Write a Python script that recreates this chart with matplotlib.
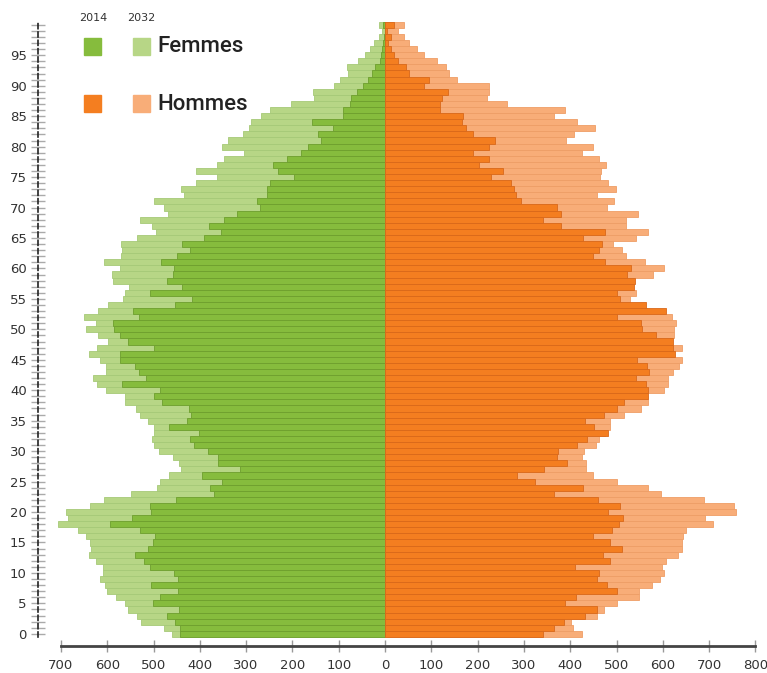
import matplotlib
matplotlib.use("Agg")
import matplotlib.pyplot as plt
import numpy as np
from matplotlib.patches import Rectangle

# ----------------------------------------
# Data : population by age (thousands)
# ----------------------------------------
ages = np.arange(0, 101)

femmes_2014 = [442, 442, 453, 471, 445, 501, 486, 448, 505, 448,
               455, 507, 520, 540, 512, 501, 496, 529, 594, 547,
               506, 507, 451, 370, 378, 352, 396, 314, 360, 360,
               383, 412, 421, 401, 466, 428, 419, 424, 482, 499,
               486, 568, 517, 532, 540, 572, 572, 500, 556, 572,
               586, 588, 531, 545, 453, 416, 507, 439, 471, 457,
               455, 483, 450, 422, 439, 390, 355, 380, 347, 319,
               271, 277, 255, 255, 249, 196, 232, 241, 212, 181,
               167, 138, 145, 113, 157, 90, 90, 75, 74, 61,
               48, 37, 28, 21, 10, 8, 7, 5, 2, 1, 5]

femmes_2032 = [459, 477, 527, 536, 555, 561, 581, 601, 604, 615,
               609, 608, 625, 640, 635, 637, 646, 662, 707, 685,
               689, 638, 606, 549, 493, 486, 466, 440, 446, 457,
               489, 498, 504, 500, 500, 511, 530, 537, 561, 561,
               602, 622, 631, 602, 602, 615, 640, 621, 599, 619,
               645, 624, 651, 619, 599, 565, 561, 552, 588, 590,
               573, 606, 571, 568, 571, 536, 494, 504, 529, 469,
               478, 498, 434, 440, 409, 363, 409, 363, 347, 304,
               352, 340, 306, 293, 289, 268, 248, 203, 154, 156,
               110, 98, 79, 81, 59, 43, 33, 23, 14, 7, 14]

hommes_2014 = [342, 365, 386, 431, 457, 389, 412, 502, 479, 457,
               463, 410, 487, 470, 511, 487, 450, 490, 505, 513,
               482, 507, 461, 365, 428, 324, 286, 344, 394, 372,
               374, 414, 437, 482, 452, 432, 473, 500, 517, 567,
               567, 563, 542, 571, 565, 545, 626, 623, 623, 585,
               554, 552, 502, 606, 564, 507, 500, 538, 540, 523,
               531, 475, 450, 463, 468, 428, 475, 380, 342, 380,
               371, 293, 282, 278, 272, 229, 254, 202, 224, 189,
               224, 237, 189, 176, 166, 168, 119, 119, 124, 137,
               85, 95, 52, 45, 29, 19, 14, 7, 13, 5, 19]

hommes_2032 = [425, 405, 402, 457, 473, 502, 548, 548, 577, 594,
               603, 598, 606, 632, 641, 641, 644, 650, 708, 692,
               758, 754, 689, 596, 567, 500, 450, 434, 434, 425,
               430, 456, 462, 475, 486, 486, 517, 552, 567, 565,
               602, 612, 612, 621, 634, 641, 620, 641, 620, 624,
               624, 628, 619, 565, 530, 529, 542, 535, 535, 578,
               603, 561, 520, 511, 492, 542, 567, 520, 520, 546,
               479, 495, 457, 498, 482, 464, 466, 477, 463, 425,
               450, 391, 408, 453, 415, 365, 389, 263, 221, 224,
               224, 155, 138, 132, 113, 84, 70, 52, 40, 27, 42]

x_ticks = [-700, -600, -500, -400, -300, -200, -100, 0, 100, 200, 300, 400, 500, 600, 700, 800]
y_ticks = list(range(0, 100, 5))

# colours
green_dark = "#86BC3D"
green_light = "#B7D686"
orange_dark = "#F47E20"
orange_light = "#F8AD78"

# ----------------------------------------
# Figure
# ----------------------------------------
W, H = 767, 673
fig = plt.figure(figsize=(W / 100, H / 100), dpi=100)

# axes placed in pixels : spine at x=38, bottom at y=646
left_px, right_px, top_px, bottom_px = 38, 760, 18, 646
ax = fig.add_axes([left_px / W, 1 - bottom_px / H,
                   (right_px - left_px) / W, (bottom_px - top_px) / H])

px_per_unit = 0.463
ax.set_xlim((left_px - 385) / px_per_unit, (right_px - 385) / px_per_unit)
ax.set_ylim(-2, -2 + (bottom_px - top_px) / 6.09)

# 2032 behind, 2014 in front
ax.barh(ages, -np.array(femmes_2032), height=1.0, color=green_light,
        edgecolor="#A6C977", linewidth=0.6, zorder=2)
ax.barh(ages, -np.array(femmes_2014), height=1.0, color=green_dark,
        edgecolor="#6E9F2E", linewidth=0.6, zorder=3)
ax.barh(ages, hommes_2032, height=1.0, color=orange_light,
        edgecolor="#EE9E66", linewidth=0.6, zorder=2)
ax.barh(ages, hommes_2014, height=1.0, color=orange_dark,
        edgecolor="#D9681A", linewidth=0.6, zorder=3)

# axes styling
for s in ["top", "right"]:
    ax.spines[s].set_visible(False)
ax.spines["bottom"].set_bounds(-700, 800)
ax.spines["bottom"].set_color("#444444")
ax.spines["bottom"].set_linewidth(2)
ax.spines["left"].set_bounds(-0.6, 100.5)
ax.spines["left"].set_color("#222222")
ax.spines["left"].set_linewidth(1.2)
ax.spines["left"].set_linestyle((0, (3, 2)))

ax.set_xticks(x_ticks)
ax.set_xticklabels([str(abs(v)) for v in x_ticks])
ax.tick_params(axis="x", direction="inout", length=9, width=1,
               color="#999999", labelsize=9.5, labelcolor="#333333", pad=5)

ax.set_yticks(y_ticks)
ax.set_yticklabels([str(v) for v in y_ticks])
ax.set_yticks(np.arange(0, 101), minor=True)
ax.tick_params(axis="y", which="both", direction="inout", length=10, width=1,
               color="#AAAAAA", labelsize=9.5, labelcolor="#333333", pad=3)

# ----------------------------------------
# Legend
# ----------------------------------------
def square(x, y, color):
    fig.patches.append(Rectangle((x / W, 1 - (y + 17) / H), 17 / W, 17 / H,
                                 transform=fig.transFigure, color=color))

square(84, 38, green_dark)
square(133, 38, green_light)
square(84, 95, orange_dark)
square(133, 95, orange_light)

fig.text(93 / W, 1 - 18 / H, "2014", ha="center", va="center", fontsize=8, color="#333333")
fig.text(141 / W, 1 - 18 / H, "2032", ha="center", va="center", fontsize=8, color="#333333")

legend_font = ["Roboto", "DejaVu Sans"]
fig.text(157 / W, 1 - 47 / H, "Femmes", ha="left", va="center", fontsize=16,
         color="#222222", family=legend_font, fontweight="medium")
fig.text(157 / W, 1 - 104 / H, "Hommes", ha="left", va="center", fontsize=16,
         color="#222222", family=legend_font, fontweight="medium")

fig.savefig("out.png", dpi=100)
